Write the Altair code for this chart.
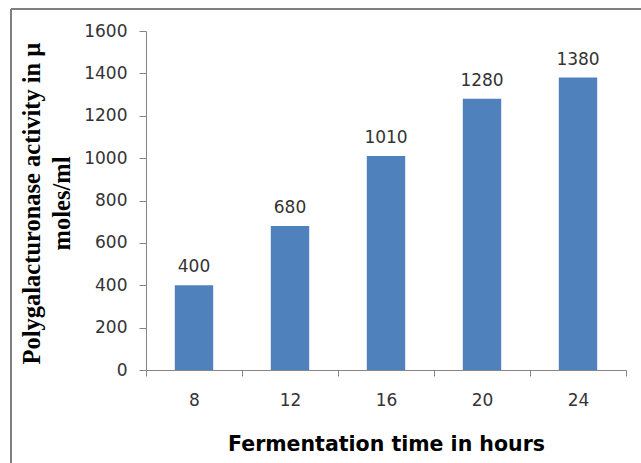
import altair as alt
import pandas as pd

hours = ["8", "12", "16", "20", "24"]
activity = [400, 680, 1010, 1280, 1380]

df = pd.DataFrame({"hours": hours, "activity": activity})

TXT = "#333333"
AX = "#868686"

base = alt.Chart(df)

x_enc = alt.X(
    "hours:N",
    sort=hours,
    scale=alt.Scale(paddingInner=0, paddingOuter=0),
    axis=alt.Axis(
        title="Fermentation time in hours",
        labelAngle=0,
        labelFont="DejaVu Sans",
        labelFontSize=17,
        labelColor=TXT,
        labelPadding=16,
        tickBand="extent",
        tickSize=6,
        tickColor=AX,
        domainColor=AX,
        titleFont="DejaVu Sans",
        titleFontWeight="bold",
        titleFontSize=20.5,
        titleColor="#000000",
        titleBaseline="alphabetic",
        titleY=80,
    ),
)

y_enc = alt.Y(
    "activity:Q",
    scale=alt.Scale(domain=[0, 1600], nice=False),
    axis=alt.Axis(
        title=["Polygalacturonase activity in µ", "moles/ml"],
        values=list(range(0, 1601, 200)),
        format="d",
        grid=False,
        labelFont="DejaVu Sans",
        labelFontSize=17,
        labelColor=TXT,
        labelPadding=12,
        tickSize=7,
        tickColor=AX,
        domainColor=AX,
        titleFont="Liberation Serif",
        titleFontWeight="bold",
        titleFontSize=24.5,
        titleColor="#000000",
        titleLineHeight=30,
        titleAngle=270,
        titleAlign="center",
        titleBaseline="bottom",
        titleX=-102,
        titleY=172,
    ),
)

bars = base.mark_bar(color="#4F81BD", width=alt.RelativeBandSize(0.4)).encode(
    x=x_enc, y=y_enc
)

labels = base.mark_text(
    font="DejaVu Sans", fontSize=17, color=TXT, baseline="alphabetic", dy=-13
).encode(x=alt.X("hours:N", sort=hours), y="activity:Q", text="activity:Q")

frame_df = pd.DataFrame({"k": [0]})
left_border = alt.Chart(frame_df).mark_rule(color="#7f7f7f", strokeWidth=2).encode(
    x=alt.value(-135), y=alt.value(-22), y2=alt.value(440)
)
top_border = alt.Chart(frame_df).mark_rule(color="#7f7f7f", strokeWidth=2).encode(
    x=alt.value(-135), x2=alt.value(520), y=alt.value(-22)
)

chart = (
    alt.layer(bars, labels, left_border, top_border)
    .properties(
        width=480,
        height=339,
        autosize=alt.AutoSizeParams(type="none"),
        padding={"left": 146, "top": 31, "right": 15, "bottom": 93},
        background="white",
    )
    .configure_view(stroke=None)
)

chart.save("out.html", embed_options={"renderer": "svg", "actions": False})
